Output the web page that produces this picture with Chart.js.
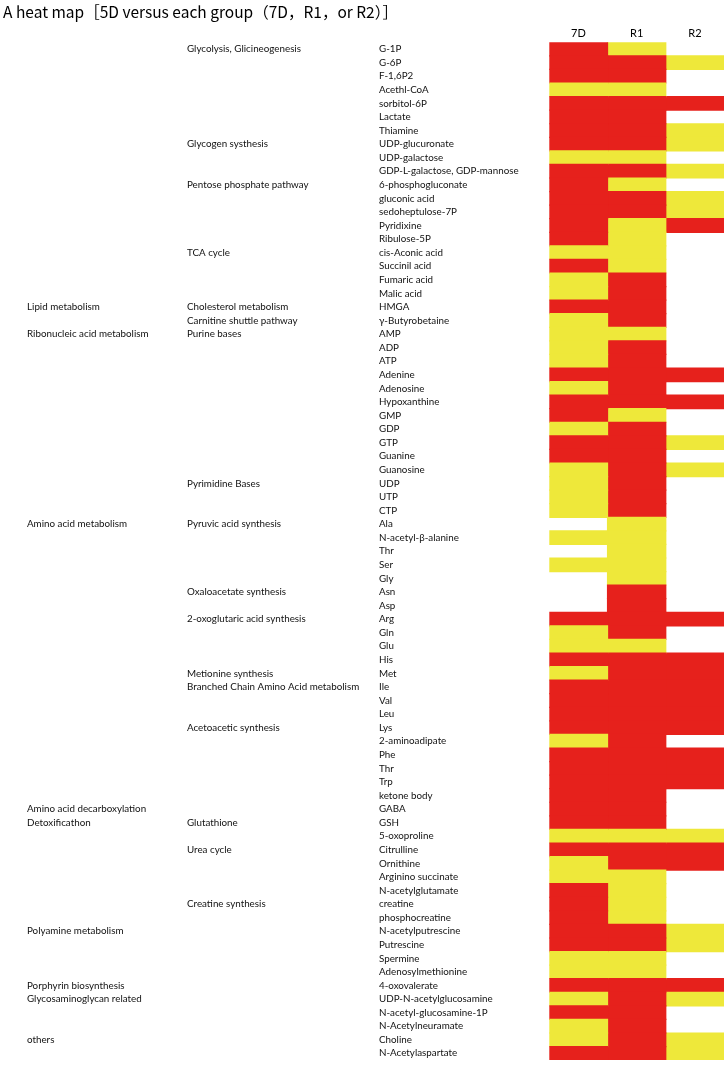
<!DOCTYPE html>
<html>
<head>
<meta charset="utf-8">
<script src="https://cdn.jsdelivr.net/npm/chart.js@4.4.1/dist/chart.umd.min.js"></script>
<style>
  html, body { margin: 0; padding: 0; background: #fff; }
</style>
</head>
<body>
<canvas id="heat" width="727" height="1069"></canvas>
<script>
// title and column headers
const titleText = 'A heat map［5D versus each group（7D，R1，or R2）］';
const groups = ['7D', 'R1', 'R2'];

// one row per metabolite, top to bottom
const metabolites = [
  'G-1P', 'G-6P', 'F-1,6P2', 'Acethl-CoA', 'sorbitol-6P', 'Lactate', 'Thiamine',
  'UDP-glucuronate', 'UDP-galactose', 'GDP-L-galactose, GDP-mannose', '6-phosphogluconate',
  'gluconic acid', 'sedoheptulose-7P', 'Pyridixine', 'Ribulose-5P', 'cis-Aconic acid',
  'Succinil acid', 'Fumaric acid', 'Malic acid', 'HMGA', 'γ-Butyrobetaine', 'AMP', 'ADP',
  'ATP', 'Adenine', 'Adenosine', 'Hypoxanthine', 'GMP', 'GDP', 'GTP', 'Guanine', 'Guanosine',
  'UDP', 'UTP', 'CTP', 'Ala', 'N-acetyl-β-alanine', 'Thr', 'Ser', 'Gly', 'Asn', 'Asp', 'Arg',
  'Gln', 'Glu', 'His', 'Met', 'Ile', 'Val', 'Leu', 'Lys', '2-aminoadipate', 'Phe', 'Thr',
  'Trp', 'ketone body', 'GABA', 'GSH', '5-oxoproline', 'Citrulline', 'Ornithine',
  'Arginino succinate', 'N-acetylglutamate', 'creatine', 'phosphocreatine',
  'N-acetylputrescine', 'Putrescine', 'Spermine', 'Adenosylmethionine', '4-oxovalerate',
  'UDP-N-acetylglucosamine', 'N-acetyl-glucosamine-1P', 'N-Acetylneuramate', 'Choline',
  'N-Acetylaspartate'
];

// pathway / category labels: [row index, text]
const pathwayRows = [
  [0, 'Glycolysis, Glicineogenesis'], [7, 'Glycogen systhesis'],
  [10, 'Pentose phosphate pathway'], [15, 'TCA cycle'], [19, 'Cholesterol metabolism'],
  [20, 'Carnitine shuttle pathway'], [21, 'Purine bases'], [32, 'Pyrimidine Bases'],
  [35, 'Pyruvic acid synthesis'], [40, 'Oxaloacetate synthesis'],
  [42, '2-oxoglutaric acid synthesis'], [46, 'Metionine synthesis'],
  [47, 'Branched Chain Amino Acid metabolism'], [50, 'Acetoacetic synthesis'],
  [57, 'Glutathione'], [59, 'Urea cycle'], [63, 'Creatine synthesis']
];
const categoryRows = [
  [19, 'Lipid metabolism'], [21, 'Ribonucleic acid metabolism'],
  [35, 'Amino acid metabolism'], [56, 'Amino acid decarboxylation'],
  [57, 'Detoxificathon'], [65, 'Polyamine metabolism'], [69, 'Porphyrin biosynthesis'],
  [70, 'Glycosaminoglycan related'], [73, 'others']
];

// cell state per group: 2 = red, 1 = yellow, 0 = blank
const d7D = [
  2,2,2,1,2,2,2,2,1,2, 2,2,2,2,2,1,2,1,1,2, 1,1,1,1,2,1,2,2,1,2,
  2,1,1,1,1,0,1,0,1,0, 0,0,2,1,1,2,1,2,2,2, 2,1,2,2,2,2,2,2,1,2,
  1,1,2,2,2,2,2,1,1,2, 1,2,1,1,2
];
const dR1 = [
  1,2,2,1,2,2,2,2,1,2, 1,2,2,1,1,1,1,2,2,2, 2,1,2,2,2,2,2,1,2,2,
  2,2,2,2,2,1,1,1,1,1, 2,2,2,2,1,2,2,2,2,2, 2,2,2,2,2,2,2,2,1,2,
  2,1,1,1,1,2,2,1,1,2, 2,2,2,2,2
];
const dR2 = [
  0,1,0,0,2,0,1,1,0,1, 0,1,1,2,0,0,0,0,0,0, 0,0,0,0,2,0,2,0,0,1,
  0,1,0,0,0,0,0,0,0,0, 0,0,2,0,0,2,2,2,2,2, 2,0,2,2,2,0,0,0,1,2,
  2,0,0,0,0,1,1,0,0,2, 1,0,0,1,1
];

const cellColors = ['rgba(0,0,0,0)', '#EEE83A', '#E6211C'];
const states = [d7D, dR1, dR2];

function sparseLabels(rows) {
  const out = metabolites.map(() => '');
  rows.forEach(([i, t]) => { out[i] = t; });
  return out;
}

const labelFont = { family: 'Lato', size: 9.8 };
const hidden = { display: false, drawTicks: false };

function sideAxis(labels, weight, width) {
  return {
    type: 'category',
    labels: labels,
    position: 'left',
    offset: true,
    weight: weight,
    grid: hidden,
    border: { display: false },
    ticks: { autoSkip: false, crossAlign: 'far', color: '#111', font: labelFont },
    afterFit(s) { s.width = width; }
  };
}

const pageTitle = {
  id: 'pageTitle',
  afterDraw(chart) {
    const ctx = chart.ctx;
    ctx.save();
    ctx.font = '15.5px "Noto Sans CJK JP"';
    ctx.fillStyle = '#000';
    ctx.textBaseline = 'middle';
    ctx.fillText(titleText, 3, 12);
    ctx.restore();
  }
};

new Chart(document.getElementById('heat'), {
  type: 'bar',
  data: {
    labels: metabolites,
    datasets: groups.map((g, c) => ({
      label: g,
      data: metabolites.map(() => [c, c + 1]),
      backgroundColor: states[c].map(v => cellColors[v]),
      borderWidth: 0,
      inflateAmount: 0.6
    }))
  },
  options: {
    responsive: false,
    animation: false,
    indexAxis: 'y',
    layout: { padding: { left: 27, right: 3, top: 22, bottom: 3 } },
    datasets: { bar: { barPercentage: 1, categoryPercentage: 1, grouped: false } },
    plugins: { legend: { display: false }, tooltip: { enabled: false } },
    scales: {
      x: { type: 'linear', min: 0, max: 3, display: false },
      xHead: {
        type: 'category',
        labels: groups,
        position: 'top',
        offset: true,
        grid: hidden,
        border: { display: false },
        ticks: { color: '#000', padding: 2, font: { family: 'Lato', size: 11 } },
        afterFit(s) { s.height = 20.3; }
      },
      y: {
        position: 'left',
        weight: 0,
        grid: hidden,
        border: { display: false },
        ticks: { autoSkip: false, crossAlign: 'far', color: '#111', font: labelFont },
        afterFit(s) { s.width = 170.3; }
      },
      yPath: sideAxis(sparseLabels(pathwayRows), 1, 192),
      yCat: sideAxis(sparseLabels(categoryRows), 2, 160)
    }
  },
  plugins: [pageTitle]
});
</script>
</body>
</html>
